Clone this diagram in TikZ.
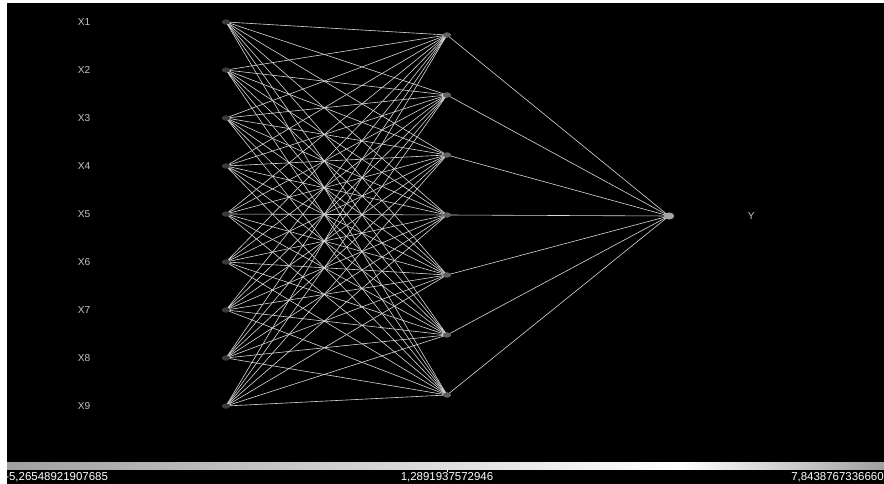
\documentclass[tikz,border=0pt]{standalone}
\usepackage{fontspec}
\setmainfont{Liberation Sans}
\usetikzlibrary{positioning, shapes.geometric}
\definecolor{wirewhite}{HTML}{D8D8D8}
\definecolor{nodegray}{HTML}{3A3A3A}
\definecolor{labelgray}{HTML}{C4C4C4}
\tikzset{
  innode/.style={ellipse, fill=nodegray, inner sep=0pt, minimum width=6pt, minimum height=3.8pt},
  hidnode/.style={ellipse, fill=nodegray!80!white, inner sep=0pt, minimum width=6pt, minimum height=3.8pt},
  outnode/.style={ellipse, fill=gray!70!white, inner sep=0pt, minimum width=7.5pt, minimum height=5pt},
  netline/.style={draw=wirewhite, line width=0.45pt},
  varlabel/.style={text=labelgray, font=\fontsize{7.6}{8}\selectfont, inner sep=0pt},
  scalelabel/.style={text=white, font=\fontsize{8.6}{9}\selectfont, inner sep=0pt}
}
\begin{document}
\begin{tikzpicture}[x=0.75pt, y=-0.75pt]
% frame
\useasboundingbox (0,0) rectangle (884,484);
\fill[white] (0,0) rectangle (884,484);
\fill[black] (7,3) rectangle (884,484);

% input layer
\foreach \i in {1,...,9} {
  \node[innode] (in\i) at (226,{22+48*(\i-1)}) {};
  \node[varlabel] (lab\i) at (84,{22+48*(\i-1)}) {X\i};
}
% hidden layer
\foreach \j in {1,...,7}
  \node[hidnode] (hid\j) at (447,{35+60*(\j-1)}) {};
% output
\node[outnode] (out) at (669,216) {};
\node[varlabel, right=55pt of out] (ylab) {Y};

% connections
\foreach \i in {1,...,9}
  \foreach \j in {1,...,7}
    \draw[netline] (in\i.center) -- (hid\j.center);
\foreach \j in {1,...,7}
  \draw[netline] (hid\j.center) -- (out.center);

% redraw nodes on top
\foreach \i in {1,...,9}
  \node[innode] at (in\i) {};
\foreach \j in {1,...,7}
  \node[hidnode] at (hid\j) {};
\node[outnode] at (out) {};

% colour scale
\shade[left color=gray!75, right color=white] (7,462) rectangle (680,469);
\shade[left color=white, right color=gray!75] (680,462) rectangle (884,469);
\coordinate (tickend) at (447,472);
\draw[white, line width=0.6pt] (447,469) -- (tickend);
\node[scalelabel, anchor=west] (lo) at (5,477) {-5,26548921907685};
\node[scalelabel] (mid) at (447,477) {1,2891937572946};
\node[scalelabel, anchor=east] (hi) at (884,477) {7,8438767336660};
\end{tikzpicture}
\end{document}
